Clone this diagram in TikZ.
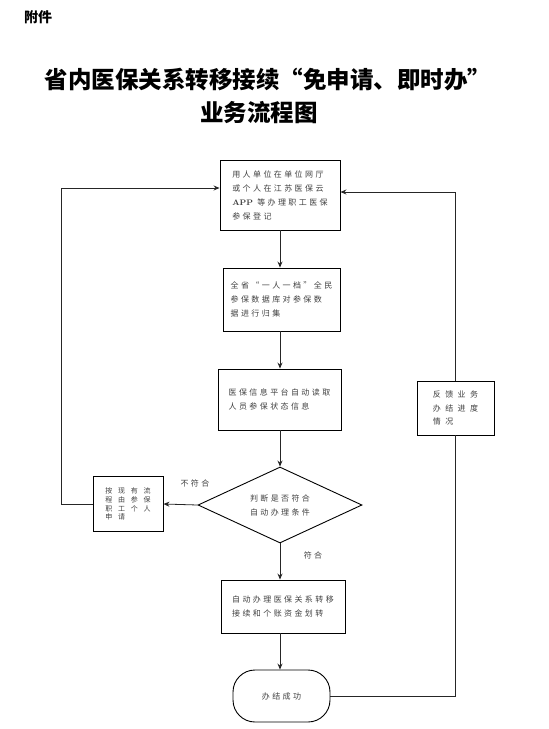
\documentclass[tikz,border=0pt]{standalone}
\usepackage{fontspec}
\newfontfamily\cjk{Noto Sans CJK SC}
\usetikzlibrary{arrows.meta,shapes.geometric}

\tikzset{
  box/.style={draw,line width=0.9pt,rectangle,inner sep=0pt},
  txt/.style={font=\cjk\fontsize{8}{14}\selectfont\addfontfeature{LetterSpace=30},text=black!75,align=left},
  wide/.style={font=\cjk\fontsize{7}{8.7}\selectfont\addfontfeature{LetterSpace=81},text=black!75,align=left},
  arr/.style={-{Stealth[length=6pt,width=5pt]},line width=0.8pt,black!85},
  ln/.style={line width=0.8pt,black!85}
}

\begin{document}
\begin{tikzpicture}[x=1pt,y=-1pt]
\useasboundingbox (0,0) rectangle (549,729);
% heading
\node (att) at (38,17) {\cjk\bfseries\fontsize{14}{14}\selectfont 附件};
\node (tt1) at (268,80) {\cjk\bfseries\fontsize{23.5}{26}\selectfont 省内医保关系转移接续“免申请、即时办”};
\node (tt2) at (259,113) {\cjk\bfseries\fontsize{23.5}{26}\selectfont 业务流程图};
% main column
\node[box,txt,minimum width=120pt,minimum height=70pt] (reg) at (280,195)
  {用人单位在单位网厅\\或个人在江苏医保云\\{\rmfamily\bfseries APP} 等办理职工医保\\参保登记};
\node[box,txt,minimum width=117pt,minimum height=63pt] (col) at (281.5,299.5)
  {全省“一人一档”全民\\参保数据库对参保数\\据进行归集};
\node[box,txt,minimum width=123pt,minimum height=61pt] (read) at (279.5,399.5)
  {医保信息平台自动读取\\人员参保状态信息};
\node[draw,diamond,line width=0.9pt,aspect=2.16,inner sep=0pt,minimum width=164pt,minimum height=76pt,txt,align=center,text=black!75] (dec) at (280,505)
  {判断是否符合\\自动办理条件};
\node[box,txt,minimum width=124pt,minimum height=53pt] (auto) at (283,606.5)
  {自动办理医保关系转移\\接续和个账资金划转};
\node[draw,line width=0.9pt,rounded corners=22pt,minimum width=97pt,minimum height=52pt,txt] (done) at (281.5,696)
  {办结成功};
% side boxes
\node[box,wide,minimum width=70pt,minimum height=55pt] (man) at (128,504)
  {按现有流\\程由参保\\职工个人\\申请};
\node[box,txt,minimum width=77pt,minimum height=54pt,font=\cjk\fontsize{8}{13.5}\selectfont\addfontfeature{LetterSpace=56}] (fb) at (455.5,408)
  {反馈业务\\办结进度\\情况};
\node[txt] (no) at (195,483) {不符合};
\node[txt] (yes) at (313,555) {符合};
% connectors
\draw[arr] (reg.south) -- (reg.south |- col.north);
\draw[arr] (reg.south |- col.south) -- (reg.south |- read.north);
\draw[arr] (reg.south |- read.south) -- (dec.north);
\draw[arr] (dec.south) -- (dec.south |- auto.north);
\draw[arr] (dec.south |- auto.south) -- (dec.south |- done.north);
\draw[arr] (dec.west) -- (man.east);
\draw[arr] (man.west) -- ++(-31,0) |- ([yshift=7pt]reg.west);
\draw[ln] (done.east) -| (fb.south);
\draw[arr] (fb.north) |- ([yshift=3pt]reg.east);
\end{tikzpicture}
\end{document}
